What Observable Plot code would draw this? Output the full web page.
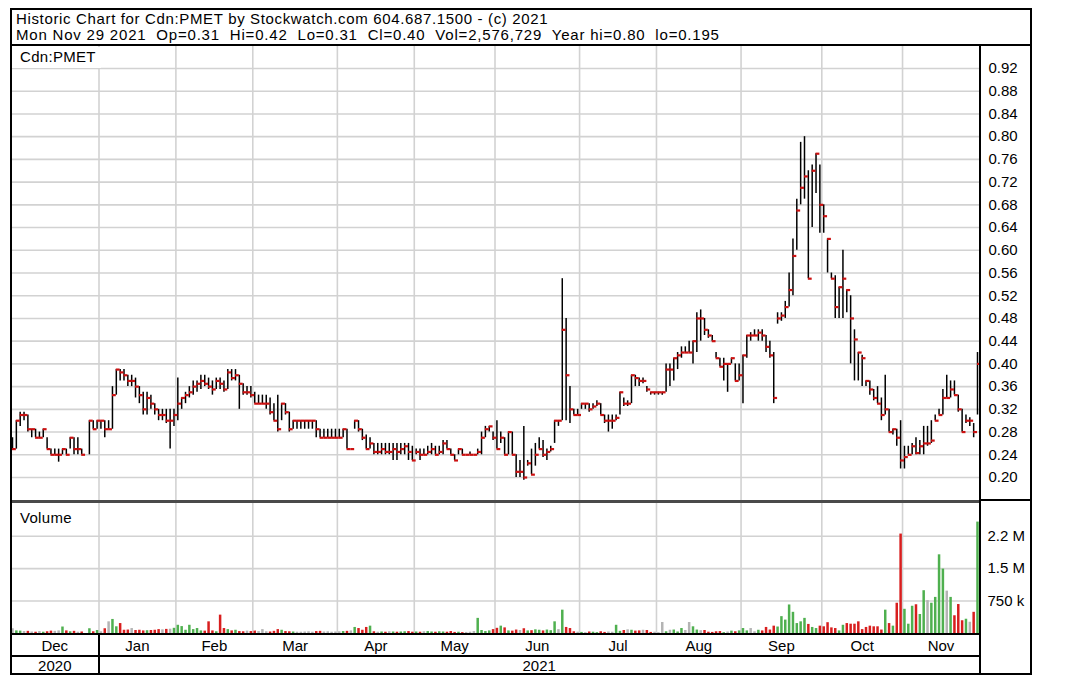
<!DOCTYPE html>
<html><head><meta charset="utf-8">
<script src="https://cdn.jsdelivr.net/npm/d3@7"></script>
<script src="https://cdn.jsdelivr.net/npm/@observablehq/plot@0.6"></script>
<style>
body{margin:0;background:#fff;font-family:"Liberation Sans",Arial,sans-serif;color:#000}
#c{position:relative;width:1068px;height:681px;overflow:hidden;background:#fff}
.ln{position:absolute;background:#000}
.txt{position:absolute;white-space:pre;font-family:"Liberation Sans",Arial,sans-serif}
svg{position:absolute}
</style></head><body><div id="c"></div>
<script>
// ---- data ----
const titleLine1 = "Historic Chart for Cdn:PMET by Stockwatch.com 604.687.1500 - (c) 2021";
const titleLine2 = "Mon Nov 29 2021  Op=0.31  Hi=0.42  Lo=0.31  Cl=0.40  Vol=2,576,729  Year hi=0.80  lo=0.195";
const monthLabels = ["Dec","Jan","Feb","Mar","Apr","May","Jun","Jul","Aug","Sep","Oct","Nov"];
const monthStarts = [0,23,43,63,85,105,126,148,168,190,211,232];
const yearLabels = ["2020","2021"];
const yearStarts = [0,23];
const priceTicks = [0.20,0.24,0.28,0.32,0.36,0.40,0.44,0.48,0.52,0.56,0.60,0.64,0.68,0.72,0.76,0.80,0.84,0.88,0.92];
const volumeTicks = [750000,1500000,2250000];
const volumeTickLabels = ["750 k","1.5 M","2.2 M"];

const high = [
 .27,.30,.315,.315,.31,.285,.285,.28,.285,.27,.25,.25,.25,.25,.25,.27,.27,.27,.25,null,.30,.30,.30,
 .30,.30,.30,.36,.39,.39,.39,.38,.38,.375,.36,.35,.35,.345,.33,.32,.32,.32,.32,.32,
 .375,.34,.35,.36,.37,.37,.38,.38,.375,.37,.375,.375,.37,.39,.39,.39,.38,.365,.36,.36,
 .35,.345,.345,.345,.34,.33,.345,.33,.33,.315,.30,.30,.30,.30,.30,.30,.30,.285,.285,.285,.285,.285,
 .285,.285,.285,.25,.30,.30,.285,.275,.27,.26,.26,.26,.26,.26,.26,.26,.26,.26,.26,.255,
 .25,.25,.25,.255,.26,.255,.255,.265,.265,.25,.24,.25,.25,.24,.245,.24,.25,.28,.29,.29,.28,
 .30,.28,.27,.28,.28,.24,.23,.29,.23,.25,.26,.27,.265,.25,.255,.30,.30,.55,.48,.36,.32,.32,
 .33,.33,.33,.33,.335,.33,.31,.31,.31,.31,.35,.34,.335,.38,.38,.375,.375,.36,.35,.35,
 .35,.35,.40,.40,.41,.42,.43,.43,.44,.44,.49,.495,.48,.46,.45,.42,.41,.41,.40,.41,.40,.40,
 .415,.45,.455,.46,.46,.46,.45,.44,.42,.49,.49,.51,.56,.62,.69,.79,.80,.74,.75,.77,.75,
 .68,.62,.56,.555,.535,.60,.53,.52,.46,.42,.415,.37,.37,.355,.36,.34,.38,.32,.285,.285,.30,
 .255,.255,.26,.27,.265,.29,.29,.30,.31,.32,.355,.38,.37,.37,.345,.32,.31,.305,.295,.42
];
const low = [
 .25,.25,.29,.30,.28,.27,.27,.27,.27,.25,.24,.24,.227,.24,.24,.25,.24,.24,.24,null,.24,.285,.285,
 .285,.27,.285,.285,.345,.37,.37,.36,.36,.34,.33,.31,.31,.32,.31,.30,.30,.295,.25,.29,
 .30,.32,.33,.34,.345,.35,.355,.36,.355,.345,.355,.355,.35,.355,.37,.37,.32,.345,.345,.34,
 .33,.33,.33,.32,.31,.30,.28,.30,.31,.28,.285,.285,.285,.285,.285,.285,.27,.27,.27,.27,.27,.27,
 .27,.27,.25,.25,.285,.28,.265,.25,.25,.24,.24,.24,.24,.24,.23,.23,.24,.24,.23,.23,
 .24,.23,.24,.24,.24,.24,.24,.24,.25,.24,.23,.24,.24,.24,.24,.24,.24,.24,.27,.28,.265,
 .25,.26,.24,.24,.24,.20,.20,.195,.22,.205,.22,.25,.235,.23,.245,.26,.29,.30,.30,.295,.31,.31,
 .32,.32,.315,.32,.325,.31,.295,.28,.285,.30,.31,.325,.325,.33,.36,.36,.365,.35,.345,.345,
 .345,.345,.35,.36,.37,.39,.41,.42,.42,.40,.42,.44,.45,.445,.44,.41,.395,.37,.35,.40,.37,.37,
 .33,.41,.44,.45,.44,.44,.42,.41,.33,.47,.475,.48,.50,.52,.60,.68,.69,.55,.64,.70,.63,
 .63,.56,.55,.48,.48,.48,.49,.40,.37,.37,.36,.36,.345,.335,.33,.30,.31,.28,.275,.255,.215,
 .215,.24,.24,.24,.24,.24,.255,.26,.30,.31,.31,.34,.34,.345,.315,.28,.295,.29,.27,.31
];
const close = [
 .25,.30,.31,.31,.285,.285,.27,.27,.285,.25,.24,.24,.24,.25,.24,.27,.25,.25,.24,null,.30,.285,.30,
 .30,.285,.285,.345,.39,.385,.38,.37,.37,.36,.345,.32,.34,.33,.32,.31,.31,.30,.30,.31,
 .33,.34,.345,.35,.36,.365,.37,.365,.36,.355,.37,.365,.355,.385,.375,.38,.365,.35,.35,.345,
 .33,.33,.33,.33,.315,.30,.285,.33,.315,.285,.30,.30,.30,.30,.30,.30,.285,.27,.27,.27,.27,.27,
 .27,.285,.25,.25,.30,.285,.27,.25,.26,.245,.245,.25,.245,.245,.25,.245,.25,.255,.245,.23,
 .245,.24,.24,.245,.25,.24,.245,.26,.25,.24,.23,.25,.24,.24,.24,.24,.245,.27,.285,.29,.27,
 .25,.27,.24,.28,.24,.21,.21,.20,.225,.205,.24,.25,.24,.245,.25,.30,.30,.46,.38,.32,.31,.31,
 .33,.33,.32,.325,.33,.31,.30,.30,.30,.305,.35,.33,.33,.38,.375,.37,.37,.355,.35,.35,
 .35,.35,.39,.39,.41,.415,.42,.42,.42,.44,.48,.48,.46,.45,.44,.41,.395,.40,.40,.41,.37,.38,
 .415,.45,.45,.45,.455,.45,.43,.415,.34,.48,.485,.50,.53,.59,.67,.71,.73,.55,.74,.77,.68,
 .66,.62,.55,.50,.535,.55,.53,.48,.443,.42,.41,.37,.355,.34,.33,.31,.32,.28,.285,.27,.23,
 .236,.24,.255,.243,.255,.26,.26,.265,.30,.31,.34,.34,.355,.345,.32,.28,.30,.30,.28,.40
];
const volumeK = [
 110,60,55,45,50,35,30,45,30,40,55,50,60,150,60,40,50,30,35,0,110,40,70,
 40,110,270,325,155,230,75,80,115,70,75,60,65,70,75,90,85,95,100,120,
 190,160,75,190,90,115,60,55,270,60,40,425,115,90,60,75,45,40,55,45,
 55,45,90,40,35,50,90,75,45,40,35,30,30,35,40,30,45,50,35,40,30,35,
 40,45,50,60,140,115,75,140,170,40,30,35,30,40,35,30,35,40,45,30,
 35,30,40,45,35,30,40,35,30,45,25,30,20,25,30,45,350,70,45,60,90,
 120,170,130,60,55,80,70,110,60,65,85,75,60,80,65,270,90,540,140,115,40,30,
 25,20,35,30,20,40,25,35,30,190,50,70,85,75,55,60,75,70,25,30,
 20,255,40,75,80,35,115,70,255,155,80,65,70,30,25,40,45,20,35,55,40,60,
 115,60,115,40,75,60,140,80,170,150,390,310,660,490,230,270,350,210,140,115,170,
 155,250,130,115,60,190,230,215,215,270,90,140,170,155,155,80,540,230,170,700,2300,
 560,215,630,665,440,990,760,700,835,1820,1490,980,835,410,670,295,330,260,490,2577
];

// ---- build ----
const N = close.length;
let prev = null;
const bars = d3.range(N).map(i => {
  const c = close[i];
  let dir = "flat";
  if (c != null && prev != null) dir = c > prev ? "up" : c < prev ? "down" : "flat";
  if (c != null) prev = c;
  return {i, high: high[i], low: low[i], close: c, vol: volumeK[i] * 1000, dir};
});
const monthEnds = monthStarts.map((s, k) => (k + 1 < monthStarts.length ? monthStarts[k + 1] : N) - 1);
const months = monthLabels.map((m, k) => ({m, x: (monthStarts[k] + monthEnds[k]) / 2, start: monthStarts[k]}));
const years = yearLabels.map((y, k) => ({y, x: (yearStarts[k] + (k + 1 < yearStarts.length ? yearStarts[k + 1] : N) - 1) / 2}));
const gridMonths = months.slice(1);

const xDomain = [-0.52, N - 0.22];
const font = "Liberation Sans, Arial, sans-serif";
const grid = "#d2d2d2";
const c = document.getElementById("c");
const traded = bars.filter(d => d.close != null);

const price = Plot.plot({
  width: 1020, height: 457,
  marginLeft: 0, marginRight: 50, marginTop: 0, marginBottom: 0,
  style: {fontFamily: font, fontSize: "15px", color: "#000", background: "transparent", overflow: "visible"},
  x: {domain: xDomain, axis: null},
  y: {domain: [0.156, 0.9605], axis: null},
  marks: [
    Plot.ruleY(priceTicks, {stroke: grid, strokeWidth: 1.6}),
    Plot.ruleX(gridMonths, {x: d => d.start - 0.5, stroke: grid, strokeWidth: 1.6}),
    Plot.ruleX(traded, {x: "i", y1: "low", y2: "high", stroke: "#000", strokeWidth: 1.5}),
    Plot.ruleY(traded, {x1: "i", x2: d => d.i + 1, y: "close", stroke: "#cc1010", strokeWidth: 2.2}),
    Plot.axisY(priceTicks, {anchor: "right", label: null, tickSize: 0, tickPadding: 8, tickFormat: d3.format(".2f"), fontSize: 15})
  ]
});
price.style.left = "10px"; price.style.top = "45px";
c.appendChild(price);

const vol = Plot.plot({
  width: 1020, height: 173,
  marginLeft: 0, marginRight: 50, marginTop: 0, marginBottom: 42,
  style: {fontFamily: font, fontSize: "15px", color: "#000", background: "transparent", overflow: "visible"},
  x: {domain: xDomain, axis: null},
  y: {domain: [0, 3030000], axis: null},
  color: {domain: ["up", "down", "flat"], range: ["#4fb04f", "#d81e1e", "#b4b4b4"]},
  marks: [
    Plot.ruleY(volumeTicks, {stroke: grid, strokeWidth: 1.6}),
    Plot.ruleX(gridMonths, {x: d => d.start - 0.5, stroke: grid, strokeWidth: 1.6}),
    Plot.ruleX(bars.filter(d => d.vol > 0), {x: "i", y1: 0, y2: "vol", stroke: "dir", strokeWidth: 2.5}),
    Plot.axisY(volumeTicks, {anchor: "right", label: null, tickSize: 0, tickPadding: 7, tickFormat: (d, k) => volumeTickLabels[k], fontSize: 15}),
    Plot.text(months, {x: "x", text: "m", frameAnchor: "bottom", dy: 13, lineAnchor: "middle", fontSize: 15}),
    Plot.text(years, {x: "x", text: "y", frameAnchor: "bottom", dy: 33, lineAnchor: "middle", fontSize: 15})
  ]
});
vol.style.left = "10px"; vol.style.top = "502px";
c.appendChild(vol);

function line(l, t, w, h, color) {
  const d = document.createElement("div");
  d.className = "ln";
  d.style.cssText = `left:${l}px;top:${t}px;width:${w}px;height:${h}px;` + (color ? `background:${color};` : "");
  c.appendChild(d);
}
function label(txt, l, t, size, extra) {
  const d = document.createElement("div");
  d.className = "txt";
  d.textContent = txt;
  d.style.cssText = `left:${l}px;top:${t}px;font-size:${size}px;line-height:${size + 2}px;` + (extra || "");
  c.appendChild(d);
}
// frames
line(10, 8, 1022, 2);      // top
line(10, 8, 2, 667);       // left
line(1030, 8, 2, 667);     // right
line(10, 673, 1022, 2);    // bottom
line(10, 44, 1022, 2);     // under title
line(979, 44, 2, 631);     // axis separator
line(12, 500, 967, 3, "#4a4a4a"); // price / volume separator
line(981, 499, 49, 2);
line(10, 633, 971, 2);     // volume bottom
line(10, 655, 971, 2);     // month / year divider
line(98, 633, 2, 42);      // year divider

label(titleLine1, 16, 10, 15, "letter-spacing:0.65px;");
label(titleLine2, 16, 26, 15, "letter-spacing:0.8px;");
label("Cdn:PMET", 12, 47, 15, "background:#fff;padding:1px 5px 3px 8px;letter-spacing:0.3px;");
label("Volume", 20, 509, 15, "letter-spacing:0.3px;");
</script></body></html>
